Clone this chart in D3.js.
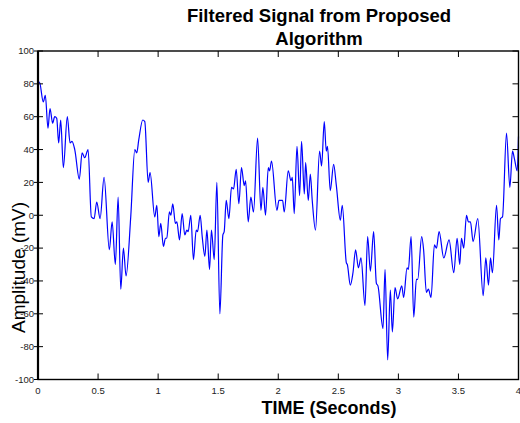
<!DOCTYPE html>
<html lang="en">
<head>
  <meta charset="UTF-8">
  <script src="https://d3js.org/d3.v7.min.js"></script>
  <title>Filtered Signal</title>
  <style>
    body { margin: 0; background: #fff; }
    text { font-family: Arial, "Liberation Sans", sans-serif; }
  </style>
</head>
<body>
  <svg width="520" height="423"></svg>
  <script>
    // data: time (s) and amplitude (mV)
    var times = [0, 0.012, 0.044, 0.061, 0.083, 0.1, 0.122, 0.139, 0.156, 0.172, 0.189, 0.211, 0.244, 0.267, 0.283,
      0.306, 0.344, 0.367, 0.389, 0.417, 0.444, 0.467, 0.489, 0.517, 0.55, 0.594, 0.617, 0.644, 0.667, 0.689,
      0.711, 0.733, 0.772, 0.806, 0.822, 0.839, 0.872, 0.889, 0.917, 0.933, 0.972, 0.989, 1.006, 1.022, 1.044,
      1.061, 1.072, 1.094, 1.106, 1.122, 1.144, 1.156, 1.178, 1.2, 1.222, 1.239, 1.25, 1.272, 1.294, 1.317,
      1.328, 1.35, 1.367, 1.389, 1.406, 1.428, 1.444, 1.467, 1.489, 1.514, 1.539, 1.55, 1.567, 1.589, 1.611,
      1.628, 1.65, 1.672, 1.694, 1.717, 1.728, 1.75, 1.772, 1.794, 1.828, 1.856, 1.872, 1.894, 1.917, 1.928,
      1.944, 1.989, 2.006, 2.036, 2.05, 2.083, 2.106, 2.117, 2.133, 2.156, 2.178, 2.194, 2.217, 2.228, 2.25,
      2.267, 2.283, 2.31, 2.344, 2.361, 2.383, 2.4, 2.41, 2.433, 2.461, 2.483, 2.517, 2.533, 2.567, 2.575,
      2.6, 2.622, 2.644, 2.667, 2.689, 2.722, 2.744, 2.767, 2.794, 2.817, 2.83, 2.872, 2.889, 2.911, 2.933,
      2.95, 2.972, 2.994, 3.028, 3.044, 3.072, 3.083, 3.106, 3.128, 3.15, 3.161, 3.194, 3.21, 3.233, 3.25,
      3.272, 3.3, 3.317, 3.339, 3.378, 3.422, 3.461, 3.489, 3.511, 3.525, 3.544, 3.567, 3.583, 3.6, 3.622,
      3.661, 3.706, 3.728, 3.75, 3.767, 3.783, 3.817, 3.836, 3.85, 3.867, 3.9, 3.928, 3.95, 3.967, 3.989, 4];
    var amplitude = [80, 81, 69, 73, 53, 65, 56, 60, 59, 44, 58, 29, 60, 44, 45,
      40, 22, 38, 35, 40, -1, -2, 8, -2, 23, -21, -4, -30, 11, -45,
      -20, -37, -1, 40, 38, 46, 58, 57, 20, 26, -1, 6, -13, -5, -19,
      -14, -14, 2, 0, 7, -5, -4, -15, 1, -12, -9, -10, 0, -27, -9,
      -10, 0, -13, -25, -9, -33, -9, -27, 20, -60, -12, -10, 9, -2, 17,
      16, 28, 7, 29, 18, 21, -4, 11, 2, 47, 3, 17, 0, 29, 27,
      33, 3, 9, 9, 2, 27, 21, 23, 1, 42, 12, 45, 13, 32, 9,
      25, 9, -9, 39, 30, 57, 39, 42, 15, 31, 18.5, -3, 6, -29, -30,
      -42.5, -35, -21, -32, -26, -55, -13, -34, -10, -41.5, -43, -69, -33, -88, -45.5,
      -71, -44, -51, -43, -50, -32, -33, -13, -62, -39, -39, -13, -21, -47, -45,
      -50, -18, -20, -10, -26, -15, -35, -14, -30, -14, -20, 0, -4, -4, -16,
      -2, -49, -26, -42.5, -26, -35, 6, -15, -2, -1, 50, 17, 39, 34, 27, 48];

    var xTicks = [0, 0.5, 1, 1.5, 2, 2.5, 3, 3.5, 4];
    var yTicks = [-100, -80, -60, -40, -20, 0, 20, 40, 60, 80, 100];

    var plot = {left: 38, right: 518.5, top: 51, bottom: 379.5};
    var svg = d3.select("svg");

    var x = d3.scaleLinear().domain([0, 4]).range([plot.left, plot.right]);
    var y = d3.scaleLinear().domain([-100, 100]).range([plot.bottom, plot.top]);

    // signal
    var line = d3.line()
      .x(function(d, i){ return x(times[i]) })
      .y(function(d){ return y(d) })
      .curve(d3.curveMonotoneX);

    svg.append("path")
      .datum(amplitude)
      .attr("d", line)
      .attr("fill", "none")
      .attr("stroke", "#0000ff")
      .attr("stroke-width", 1.2);

    // box
    svg.append("rect")
      .attr("x", plot.left).attr("y", plot.top)
      .attr("width", plot.right - plot.left).attr("height", plot.bottom - plot.top)
      .attr("fill", "none").attr("stroke", "#000").attr("stroke-width", 1.4);
    svg.append("line")
      .attr("x1", plot.left).attr("x2", plot.left)
      .attr("y1", plot.top).attr("y2", plot.bottom)
      .attr("stroke", "#000").attr("stroke-width", 2.2);

    // x ticks (inward, top and bottom)
    var xt = svg.selectAll(".xt").data(xTicks).enter();
    xt.append("line")
      .attr("x1", function(d){ return x(d) }).attr("x2", function(d){ return x(d) })
      .attr("y1", plot.bottom).attr("y2", plot.bottom - 6)
      .attr("stroke", "#000").attr("stroke-width", 1);
    xt.append("line")
      .attr("x1", function(d){ return x(d) }).attr("x2", function(d){ return x(d) })
      .attr("y1", plot.top).attr("y2", plot.top + 6)
      .attr("stroke", "#000").attr("stroke-width", 1);
    xt.append("text")
      .attr("x", function(d){ return x(d) })
      .attr("y", 393.5)
      .attr("text-anchor", "middle")
      .attr("font-size", "9.5px")
      .attr("fill", "#222")
      .text(function(d){ return d });

    // y ticks (cross left axis, inward on right)
    var yt = svg.selectAll(".yt").data(yTicks).enter();
    yt.append("line")
      .attr("x1", plot.left - 4).attr("x2", plot.left + 5)
      .attr("y1", function(d){ return y(d) }).attr("y2", function(d){ return y(d) })
      .attr("stroke", "#000").attr("stroke-width", 1);
    yt.append("line")
      .attr("x1", plot.right).attr("x2", plot.right - 6)
      .attr("y1", function(d){ return y(d) }).attr("y2", function(d){ return y(d) })
      .attr("stroke", "#000").attr("stroke-width", 1);
    yt.append("text")
      .attr("x", 34)
      .attr("y", function(d){ return y(d) })
      .attr("dy", "0.35em")
      .attr("text-anchor", "end")
      .attr("font-size", "9.5px")
      .attr("fill", "#222")
      .text(function(d){ return d });

    // title
    svg.append("text")
      .attr("x", 319).attr("y", 21.5)
      .attr("text-anchor", "middle")
      .attr("font-size", "18.5px").attr("font-weight", "bold")
      .text("Filtered Signal from Proposed");
    svg.append("text")
      .attr("x", 319).attr("y", 45)
      .attr("text-anchor", "middle")
      .attr("font-size", "18.5px").attr("font-weight", "bold")
      .text("Algorithm");

    // axis labels
    svg.append("text")
      .attr("x", 329).attr("y", 414)
      .attr("text-anchor", "middle")
      .attr("font-size", "18px").attr("font-weight", "bold")
      .text("TIME (Seconds)");
    svg.append("text")
      .attr("transform", "translate(25,267.5) rotate(-90)")
      .attr("text-anchor", "middle")
      .attr("font-size", "19px")
      .text("Amplitude  (mV)");
  </script>
</body>
</html>
